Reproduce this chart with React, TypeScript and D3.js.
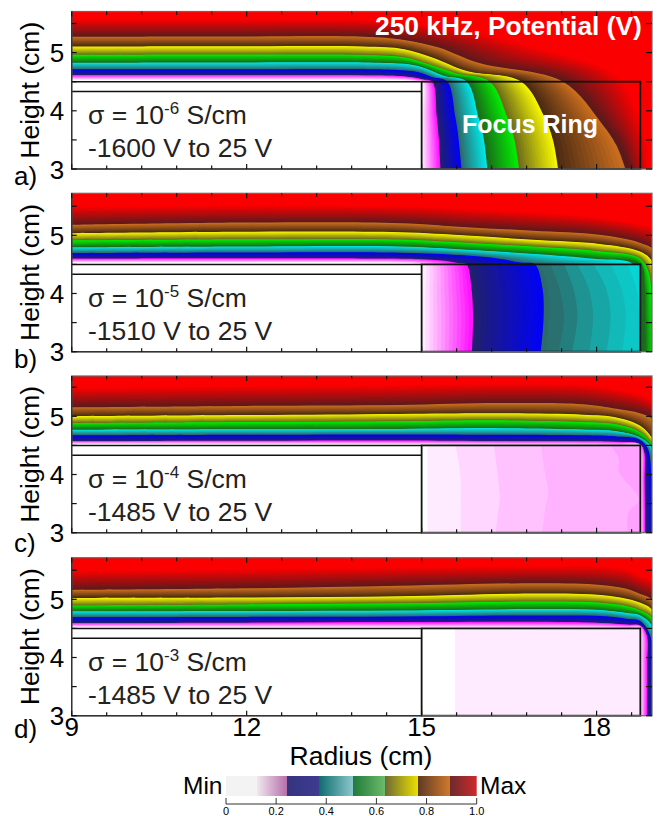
import { useMemo } from 'react';
import * as d3 from 'd3';

// contour levels as [radius cm, height cm], lowest level first
const levelsA = [
  [[9, 4.53], [12, 4.53], [14.2, 4.53], [14.6, 4.525], [14.8, 4.515], [14.9, 4.505], [15, 4.5], [15, 3.9], [15, 3.5], [15, 3]],
  [[9, 4.62], [12, 4.62], [14.2, 4.615], [14.6, 4.605], [14.85, 4.58], [15.05, 4.54], [15.2, 4.5], [15.28, 3.9], [15.32, 3.5], [15.35, 3]],
  [[9, 4.72], [12, 4.72], [14.2, 4.72], [14.7, 4.7], [14.95, 4.67], [15.2, 4.58], [15.46, 4.5], [15.6, 3.9], [15.66, 3.5], [15.71, 3]],
  [[9, 4.835], [12, 4.84], [14.2, 4.835], [14.7, 4.815], [15.0, 4.76], [15.4, 4.6], [15.8, 4.5], [16.0, 3.9], [16.1, 3.5], [16.16, 3]],
  [[9, 4.97], [12, 4.975], [14, 4.97], [14.7, 4.926], [15.1, 4.81], [15.6, 4.65], [16.2, 4.5], [16.5, 3.9], [16.63, 3.5], [16.71, 3]],
  [[9, 5.115], [12, 5.12], [14, 5.115], [14.7, 5.07], [15.2, 4.92], [15.8, 4.68], [16.75, 4.5], [17.15, 3.9], [17.3, 3.5], [17.39, 3]],
  [[9, 5.285], [12, 5.29], [14, 5.285], [14.7, 5.23], [15.3, 5.1], [16, 4.83], [17.48, 4.5], [18.17, 3.76], [18.42, 3.4], [18.58, 3]],
  [[9, 5.58], [12, 5.58], [14, 5.57], [15, 5.5], [16, 5.35], [17, 5.1], [18.4, 4.6], [18.75, 3.9], [18.85, 3.5], [18.9, 3]],
];

const levelsB = [
  [[9, 4.53], [12, 4.53], [14, 4.53], [14.6, 4.525], [14.8, 4.515], [14.9, 4.505], [15, 4.5], [15, 4], [15, 3.5], [15, 3]],
  [[9, 4.605], [12, 4.61], [14.3, 4.605], [15, 4.595], [15.4, 4.57], [15.7, 4.52], [15.83, 4.5], [15.92, 4.1], [15.95, 3.6], [15.93, 3]],
  [[9, 4.7], [12, 4.71], [14.63, 4.707], [15.77, 4.66], [16.4, 4.6], [16.8, 4.53], [17.03, 4.5], [17.16, 4.1], [17.18, 3.6], [17.13, 3]],
  [[9, 4.8], [12, 4.815], [14.63, 4.816], [15.77, 4.76], [16.91, 4.69], [18.05, 4.6], [18.75, 4.5], [18.82, 4.1], [18.83, 3.5], [18.84, 3]],
  [[9, 4.92], [12, 4.94], [14.63, 4.936], [15.77, 4.88], [16.91, 4.816], [18.05, 4.735], [18.73, 4.62], [18.88, 4.44], [18.95, 4.1], [19, 3]],
  [[9, 5.045], [12, 5.07], [14.63, 5.06], [15.77, 5.005], [16.91, 4.93], [18.05, 4.86], [18.73, 4.735], [18.93, 4.6], [19.05, 4.2], [19.2, 3]],
  [[9, 5.19], [12, 5.23], [14.63, 5.22], [15.77, 5.15], [16.91, 5.09], [18.05, 5.02], [18.75, 4.88], [19, 4.75], [19.15, 4.2], [19.3, 3]],
  [[9, 5.5], [12, 5.52], [15, 5.5], [16, 5.45], [17, 5.4], [18, 5.32], [18.75, 5.2], [19, 5.1], [19.15, 4.2], [19.3, 3]],
];

const levelsC = [
  [[9, 4.52], [12, 4.52], [14.63, 4.515], [16.34, 4.51], [17.77, 4.51], [18.34, 4.505], [18.74, 4.5], [18.75, 4.4], [18.75, 3.9], [18.75, 3]],
  [[9, 4.58], [12, 4.585], [14.63, 4.59], [16.34, 4.58], [17.77, 4.575], [18.34, 4.565], [18.74, 4.525], [18.82, 4.4], [18.83, 3.9], [18.84, 3]],
  [[9, 4.68], [12, 4.69], [14.63, 4.695], [16.34, 4.69], [17.77, 4.68], [18.34, 4.66], [18.72, 4.61], [18.88, 4.45], [18.95, 4], [19.02, 3]],
  [[9, 4.777], [12, 4.785], [14.63, 4.79], [16.34, 4.805], [17.77, 4.78], [18.34, 4.75], [18.72, 4.65], [18.94, 4.48], [19.05, 4.1], [19.15, 3]],
  [[9, 4.89], [12, 4.91], [14.63, 4.925], [16.34, 4.94], [17.77, 4.91], [18.34, 4.87], [18.74, 4.735], [18.94, 4.535], [19.08, 4.2], [19.2, 3]],
  [[9, 5.01], [12, 5.03], [14.63, 5.05], [16.34, 5.06], [17.77, 5.035], [18.34, 4.99], [18.74, 4.85], [18.94, 4.65], [19.1, 4.3], [19.25, 3]],
  [[9, 5.165], [12, 5.19], [14.63, 5.206], [16.34, 5.24], [17.77, 5.22], [18.34, 5.14], [18.74, 5.07], [18.94, 4.99], [19.1, 4.7], [19.3, 3]],
  [[9, 5.5], [12, 5.53], [14.63, 5.55], [16.34, 5.57], [17.77, 5.55], [18.34, 5.48], [18.74, 5.38], [18.94, 5.28], [19.1, 5], [19.3, 3]],
];

const levelsD = [
  [[9, 4.52], [12, 4.52], [14.63, 4.515], [17.03, 4.51], [18.07, 4.51], [18.53, 4.505], [18.75, 4.5], [18.75, 4.4], [18.75, 3.9], [18.75, 3]],
  [[9, 4.6], [12, 4.605], [14.63, 4.615], [17.03, 4.62], [18.07, 4.6], [18.53, 4.57], [18.75, 4.555], [18.87, 4.38], [18.88, 3.9], [18.88, 3]],
  [[9, 4.7], [12, 4.705], [14.63, 4.71], [17.03, 4.73], [18.07, 4.72], [18.53, 4.67], [18.75, 4.63], [18.92, 4.38], [18.98, 4], [19.04, 3]],
  [[9, 4.8], [12, 4.805], [14.63, 4.815], [17.03, 4.84], [18.07, 4.825], [18.53, 4.77], [18.75, 4.73], [18.94, 4.58], [19.05, 4.2], [19.15, 3]],
  [[9, 4.9], [12, 4.92], [14.63, 4.94], [17.03, 4.97], [18.07, 4.95], [18.53, 4.89], [18.75, 4.815], [18.94, 4.7], [19.08, 4.3], [19.2, 3]],
  [[9, 5.034], [12, 5.04], [14.63, 5.06], [17.03, 5.11], [18.07, 5.085], [18.53, 5.015], [18.75, 4.95], [18.94, 4.84], [19.1, 4.4], [19.25, 3]],
  [[9, 5.17], [12, 5.2], [14.63, 5.246], [17.03, 5.29], [18.07, 5.26], [18.53, 5.19], [18.75, 5.1], [18.94, 5.015], [19.1, 4.7], [19.3, 3]],
  [[9, 5.5], [12, 5.53], [14.63, 5.56], [17.03, 5.58], [18.07, 5.58], [18.53, 5.52], [18.75, 5.42], [18.94, 5.33], [19.1, 5], [19.3, 3]],
];

// plateaus painted over the ring: teal steps in b, pale pinks in c and d
const ringEdgesB = [
  [[17.03, 4.5], [17.16, 4.1], [17.18, 3.6], [17.13, 3]],
  [[17.21, 4.5], [17.36, 4.1], [17.44, 3.6], [17.35, 3]],
  [[17.44, 4.5], [17.6, 4.1], [17.67, 3.6], [17.58, 3]],
  [[17.67, 4.5], [17.86, 4.1], [17.94, 3.6], [17.87, 3]],
  [[17.95, 4.5], [18.16, 4.1], [18.24, 3.6], [18.17, 3]],
  [[18.24, 4.5], [18.42, 4.1], [18.5, 3.6], [18.44, 3]],
  [[18.53, 4.5], [18.68, 4.1], [18.73, 3.6], [18.75, 3]],
];
const ringValuesB = [0.381, 0.394, 0.4125, 0.431, 0.45, 0.4625, 0.475];
const ringEdgesC = [
  [[15.1, 4.5], [15.1, 3]],
  [[15.58, 4.5], [15.66, 4.05], [15.67, 3.53], [15.67, 3]],
  [[16.24, 4.5], [16.33, 3.76], [16.34, 3.59], [16.29, 3.19], [16.27, 3]],
  [[17.05, 4.5], [17.11, 4.05], [17.17, 3.7], [17.11, 3.36], [17.07, 3]],
  [[18.24, 4.5], [18.38, 4.27], [18.38, 4.05], [18.73, 3.56], [18.55, 3.36], [18.53, 3]],
];
const ringValuesC = [0.135, 0.145, 0.155, 0.1625, 0.171];
const ringEdgesD = [[[15.57, 4.5], [15.57, 3]]];
const ringValuesD = [0.135];

const bandRamps = [
  ['#ffffff', '#ff00ff'],
  ['#20206c', '#0000ff'],
  ['#2c6a6a', '#00eeee'],
  ['#1a6c1a', '#00f400'],
  ['#6e6c1a', '#ffff00'],
  ['#4a2a12', '#d2721f'],
  ['#5a1a1c', '#fb0000'],
];

const panelLabels = ['a)', 'b)', 'c)', 'd)'];
const sigmaExponents = ['-6', '-5', '-4', '-3'];
const voltageRanges = ['-1600 V to 25 V', '-1510 V to 25 V', '-1485 V to 25 V', '-1485 V to 25 V'];
const panelTops = [11.5, 193.3, 376, 557.7];
const panelBottoms = [169, 351.7, 532.7, 715.7];
const labelBaselines = [185, 368, 552, 738];

const radiusTicks = [9, 9.6, 10.2, 10.8, 11.4, 12, 12.6, 13.2, 13.8, 14.4, 15, 15.6, 16.2, 16.8, 17.4, 18, 18.6];
const radiusLabels = [9, 12, 15, 18];
const heightTicks = [3, 3.5, 4, 4.5, 5, 5.5];
const heightLabels = [3, 4, 5];

const colorbarStops = [
  [0, '#f3f3f3'], [0.125, '#f3f3f3'], [0.125, '#f0e6ee'], [0.245, '#b46ea8'],
  [0.245, '#34347f'], [0.37, '#3e3b90'], [0.37, '#0d6c6e'], [0.505, '#8ac6cc'],
  [0.505, '#1f7a3a'], [0.635, '#6cbb6a'], [0.635, '#6e6a35'], [0.765, '#eae000'],
  [0.765, '#5e3a25'], [0.895, '#d07a2a'], [0.895, '#6e2a2e'], [1, '#cf2a2a'],
];
const colorbarTicks = [0, 0.2, 0.4, 0.6, 0.8, 1];

const FONT = '"Liberation Sans", Arial, sans-serif';
const STEPS = 14;

const x = d3.scaleLinear().domain([9, 18.95]).range([71.7, 652]);

function rampColor(value) {
  const scaled = value * 8;
  const band = Math.min(6, Math.floor(scaled) - 1);
  const t = scaled - band - 1;
  return d3.interpolateRgb(bandRamps[band][0], bandRamps[band][1])(t);
}

function Panel({ index, levels, ringEdges, ringValues, ringBase = false }) {
  const top = panelTops[index];
  const bottom = panelBottoms[index];
  const y = d3.scaleLinear().domain([3, 3 + (bottom - top) / 58.2]).range([bottom, top]);
  const line = d3.line().x((d) => x(d[0])).y((d) => y(d[1])).curve(d3.curveCatmullRom);
  const clipId = `plot-${index}`;

  // painted from the top level down, each region covering everything below its contour
  const shapes = useMemo(() => {
    const out = [];
    for (let band = bandRamps.length - 1; band >= 0; band -= 1) {
      const blend = d3.interpolate(levels[band], levels[band + 1]);
      for (let step = STEPS - 1; step >= 0; step -= 1) {
        const t = step / STEPS;
        out.push({
          d: `${line(blend(t))}L${x(19.5)},${y(3) + 4}L${x(9) - 4},${y(3) + 4}Z`,
          fill: rampColor((band + 1 + t) / 8),
        });
      }
    }
    out.push({ d: `${line(levels[0])}L${x(19.5)},${y(3) + 4}L${x(9) - 4},${y(3) + 4}Z`, fill: '#ffffff' });
    return out;
  }, [levels]);

  const frame = { x: x.range()[0], y: top, width: x.range()[1] - x.range()[0], height: bottom - top };
  const ringBox = { x: x(15), y: y(4.5), width: x(18.75) - x(15), height: y(3) - y(4.5) };

  return (
    <g>
      <defs>
        <clipPath id={clipId}>
          <rect {...frame} />
        </clipPath>
        <clipPath id={`${clipId}-ring`}>
          <rect {...ringBox} />
        </clipPath>
      </defs>
      <g clipPath={`url(#${clipId})`}>
        <rect {...frame} fill="#fb0000" />
        {shapes.map((shape, i) => (
          <path key={i} d={shape.d} fill={shape.fill} />
        ))}
        <rect x={x(9)} y={y(4.5)} width={x(15) - x(9)} height={y(3) - y(4.5)} fill="#fff" />
      </g>
      {ringEdges ? (
        <g clipPath={`url(#${clipId}-ring)`}>
          {ringBase ? <rect {...ringBox} fill="#fff" /> : null}
          {ringEdges.map((edge, i) => (
            <path
              key={i}
              d={`${line(edge)}L${x(19)},${y(3)}L${x(19)},${y(4.5)}Z`}
              fill={rampColor(ringValues[i])}
            />
          ))}
        </g>
      ) : null}

      {/* wafer and focus ring outlines */}
      <path d={`M${x(9)},${y(4.5)}H${x(15)}`} stroke="#111" strokeWidth={1.5} />
      <path d={`M${x(9)},${y(4.33)}H${x(15)}`} stroke="#111" strokeWidth={1.5} />
      <rect {...ringBox} fill="none" stroke="#111" strokeWidth={1.8} />

      {/* frame and ticks */}
      <rect {...frame} fill="none" stroke="#666" strokeWidth={1.2} />
      <path d={`M${x(9)},${top}V${bottom}H${x(15)}`} fill="none" stroke="#333" strokeWidth={1.4} />
      {radiusTicks.map((tick) => {
        const length = radiusLabels.includes(tick) ? 5 : 3.5;
        return (
          <g key={tick} stroke="#111" strokeWidth={1.2}>
            <line x1={x(tick)} x2={x(tick)} y1={top} y2={top + length} />
            <line x1={x(tick)} x2={x(tick)} y1={bottom} y2={bottom - length} />
          </g>
        );
      })}
      {heightTicks.map((tick) => (
        <g key={tick} stroke="#111" strokeWidth={1.2}>
          <line x1={x(9)} x2={x(9) + 5} y1={y(tick)} y2={y(tick)} />
          <line x1={x.range()[1]} x2={x.range()[1] - 6} y1={y(tick)} y2={y(tick)} />
        </g>
      ))}
      {heightLabels.map((tick) => (
        <text key={tick} x={57} y={y(tick) + 9.5} textAnchor="middle" fontSize={26}>
          {tick}
        </text>
      ))}
      <text transform={`translate(39,${(top + bottom) / 2}) rotate(-90)`} textAnchor="middle" fontSize={26.5}>
        Height (cm)
      </text>
      <text x={14} y={labelBaselines[index]} fontSize={26}>
        {panelLabels[index]}
      </text>
      <text x={88} y={y(3) - 45} fontSize={26.5} fill="#222">
        σ = 10
        <tspan fontSize={17} dy={-10}>
          {sigmaExponents[index]}
        </tspan>
        <tspan dy={10}> S/cm</tspan>
      </text>
      <text x={88} y={y(3) - 12} fontSize={26.5} fill="#222">
        {voltageRanges[index]}
      </text>
    </g>
  );
}

function Colorbar() {
  const bar = d3.scaleLinear().domain([0, 1]).range([226, 476.7]);
  return (
    <g>
      <defs>
        <linearGradient id="colorbar-fill">
          {colorbarStops.map(([offset, color], i) => (
            <stop key={i} offset={offset} stopColor={color} />
          ))}
        </linearGradient>
      </defs>
      <rect x={bar(0)} y={776} width={bar(1) - bar(0)} height={20} fill="url(#colorbar-fill)" />
      <path d={`M${bar(0)},804H${bar(1)}`} stroke="#333" strokeWidth={1} />
      {colorbarTicks.map((tick) => (
        <g key={tick}>
          <line x1={bar(tick)} x2={bar(tick)} y1={798} y2={804} stroke="#333" strokeWidth={1} />
          <text x={bar(tick)} y={815} textAnchor="middle" fontSize={11}>
            {tick === 0 ? '0' : tick.toFixed(1)}
          </text>
        </g>
      ))}
      <text x={183} y={794} fontSize={24.5}>
        Min
      </text>
      <text x={480} y={794} fontSize={24.5}>
        Max
      </text>
    </g>
  );
}

export default function App() {
  return (
    <svg
      width={657}
      height={816}
      fontFamily={FONT}
      style={{ position: 'absolute', left: 0, top: 0, background: '#fff' }}
    >
      <Panel index={0} levels={levelsA} />
      <Panel index={1} levels={levelsB} ringEdges={ringEdgesB} ringValues={ringValuesB} />
      <Panel index={2} levels={levelsC} ringEdges={ringEdgesC} ringValues={ringValuesC} ringBase />
      <Panel index={3} levels={levelsD} ringEdges={ringEdgesD} ringValues={ringValuesD} ringBase />

      <text x={375} y={34.5} fontSize={26.4} fontWeight="bold" fill="#fff">
        250 kHz, Potential (V)
      </text>
      <text x={462} y={132.5} fontSize={25} fontWeight="bold" fill="#fff">
        Focus Ring
      </text>

      {radiusLabels.map((tick) => (
        <text key={tick} x={x(tick)} y={736} textAnchor="middle" fontSize={26}>
          {tick}
        </text>
      ))}
      <text x={361} y={765} textAnchor="middle" fontSize={26.5}>
        Radius (cm)
      </text>
      <Colorbar />
    </svg>
  );
}
